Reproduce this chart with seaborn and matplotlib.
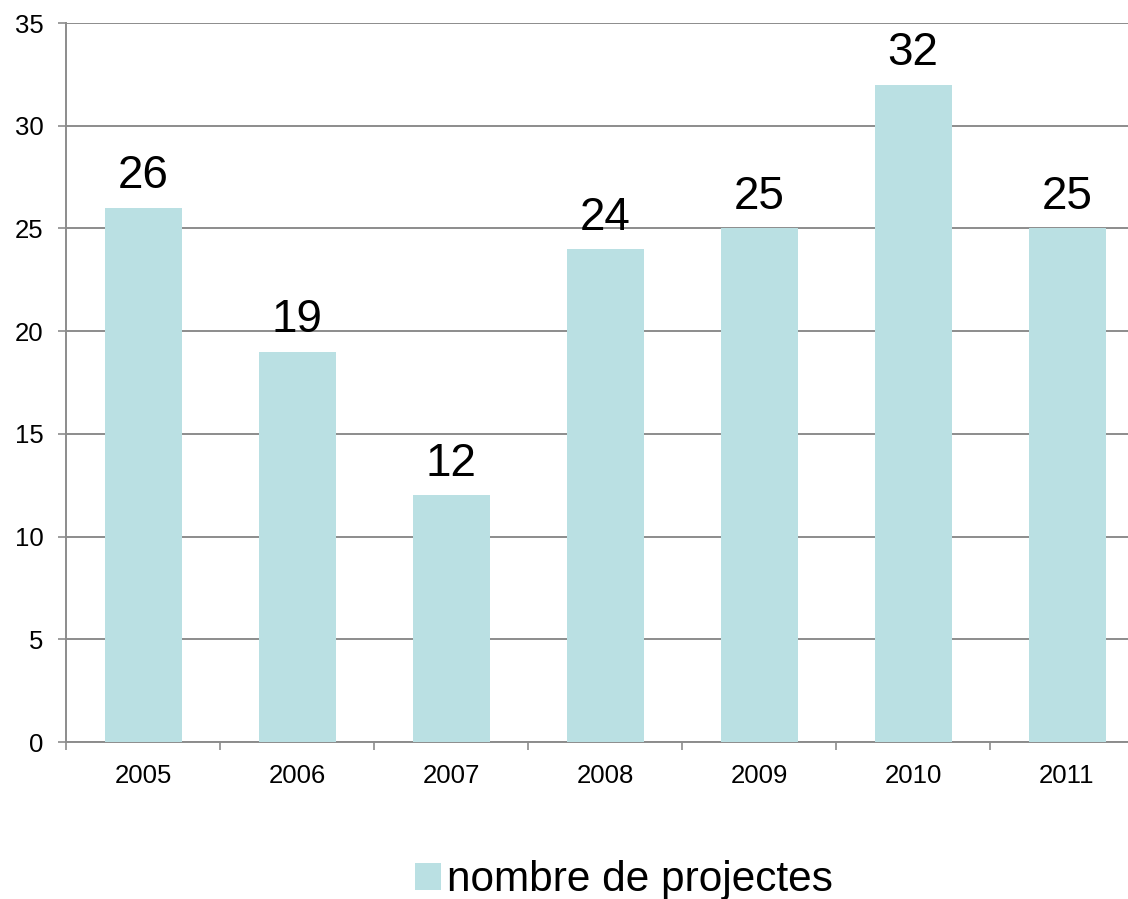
import matplotlib
matplotlib.use("Agg")
import matplotlib.pyplot as plt
import numpy as np
import pandas as pd
import seaborn as sns
from matplotlib.patches import Patch

years = ["2005", "2006", "2007", "2008", "2009", "2010", "2011"]
projects = [26, 19, 12, 24, 25, 32, 25]
series_name = "nombre de projectes"

df = pd.DataFrame({"year": years, "projects": projects})

sns.set_style("white")
plt.rcParams["font.family"] = ["Liberation Sans", "DejaVu Sans"]
plt.rcParams["text.color"] = "black"
plt.rcParams["xtick.labelcolor"] = "black"
plt.rcParams["ytick.labelcolor"] = "black"

bar_color = "#BAE0E3"
grid_color = "#8C8C8C"

fig = plt.figure(figsize=(11.28, 8.99), dpi=100)
# plot area runs past the right edge, as in the original
ax = fig.add_axes([66 / 1128, 157 / 899, 1078 / 1128, 719 / 899])

sns.barplot(data=df, x="year", y="projects", color=bar_color, width=0.5,
            saturation=1, linewidth=0, edgecolor="none", ax=ax, zorder=3)

ax.set_ylim(0, 35)
ax.set_xlim(-0.5, len(years) - 0.5)
ax.set_yticks(np.arange(0, 36, 5))
ax.yaxis.grid(True, color=grid_color, linewidth=1.4, zorder=0)
ax.set_axisbelow(True)
ax.set_xlabel("")
ax.set_ylabel("")

for s in ["top", "right"]:
    ax.spines[s].set_visible(False)
for s in ["left", "bottom"]:
    ax.spines[s].set_color(grid_color)
    ax.spines[s].set_linewidth(1.4)

ax.tick_params(axis="y", length=6, width=1.2, color=grid_color, pad=10,
               labelsize=18.5, left=True, labelcolor="black")
ax.tick_params(axis="x", which="major", length=0, pad=16, labelsize=18.5,
               labelcolor="black")
ax.set_xticks(np.arange(-0.5, len(years), 1), minor=True)
ax.tick_params(axis="x", which="minor", length=6, width=1.2,
               color=grid_color, bottom=True, direction="out")

for i, v in enumerate(projects):
    ax.annotate(str(v), (i, v), xytext=(0, 14), textcoords="offset points",
                ha="center", va="baseline", fontsize=33, color="black")

handles = [Patch(facecolor=bar_color, edgecolor="none", label=series_name)]
leg = fig.legend(handles=handles, loc="center",
                 bbox_to_anchor=(624 / 1128, 1 - 880 / 899),
                 frameon=False, fontsize=30.5, handlelength=0.6,
                 handleheight=0.6, handletextpad=0.15)
for t in leg.get_texts():
    t.set_color("black")

fig.savefig("out.png", dpi=100)
